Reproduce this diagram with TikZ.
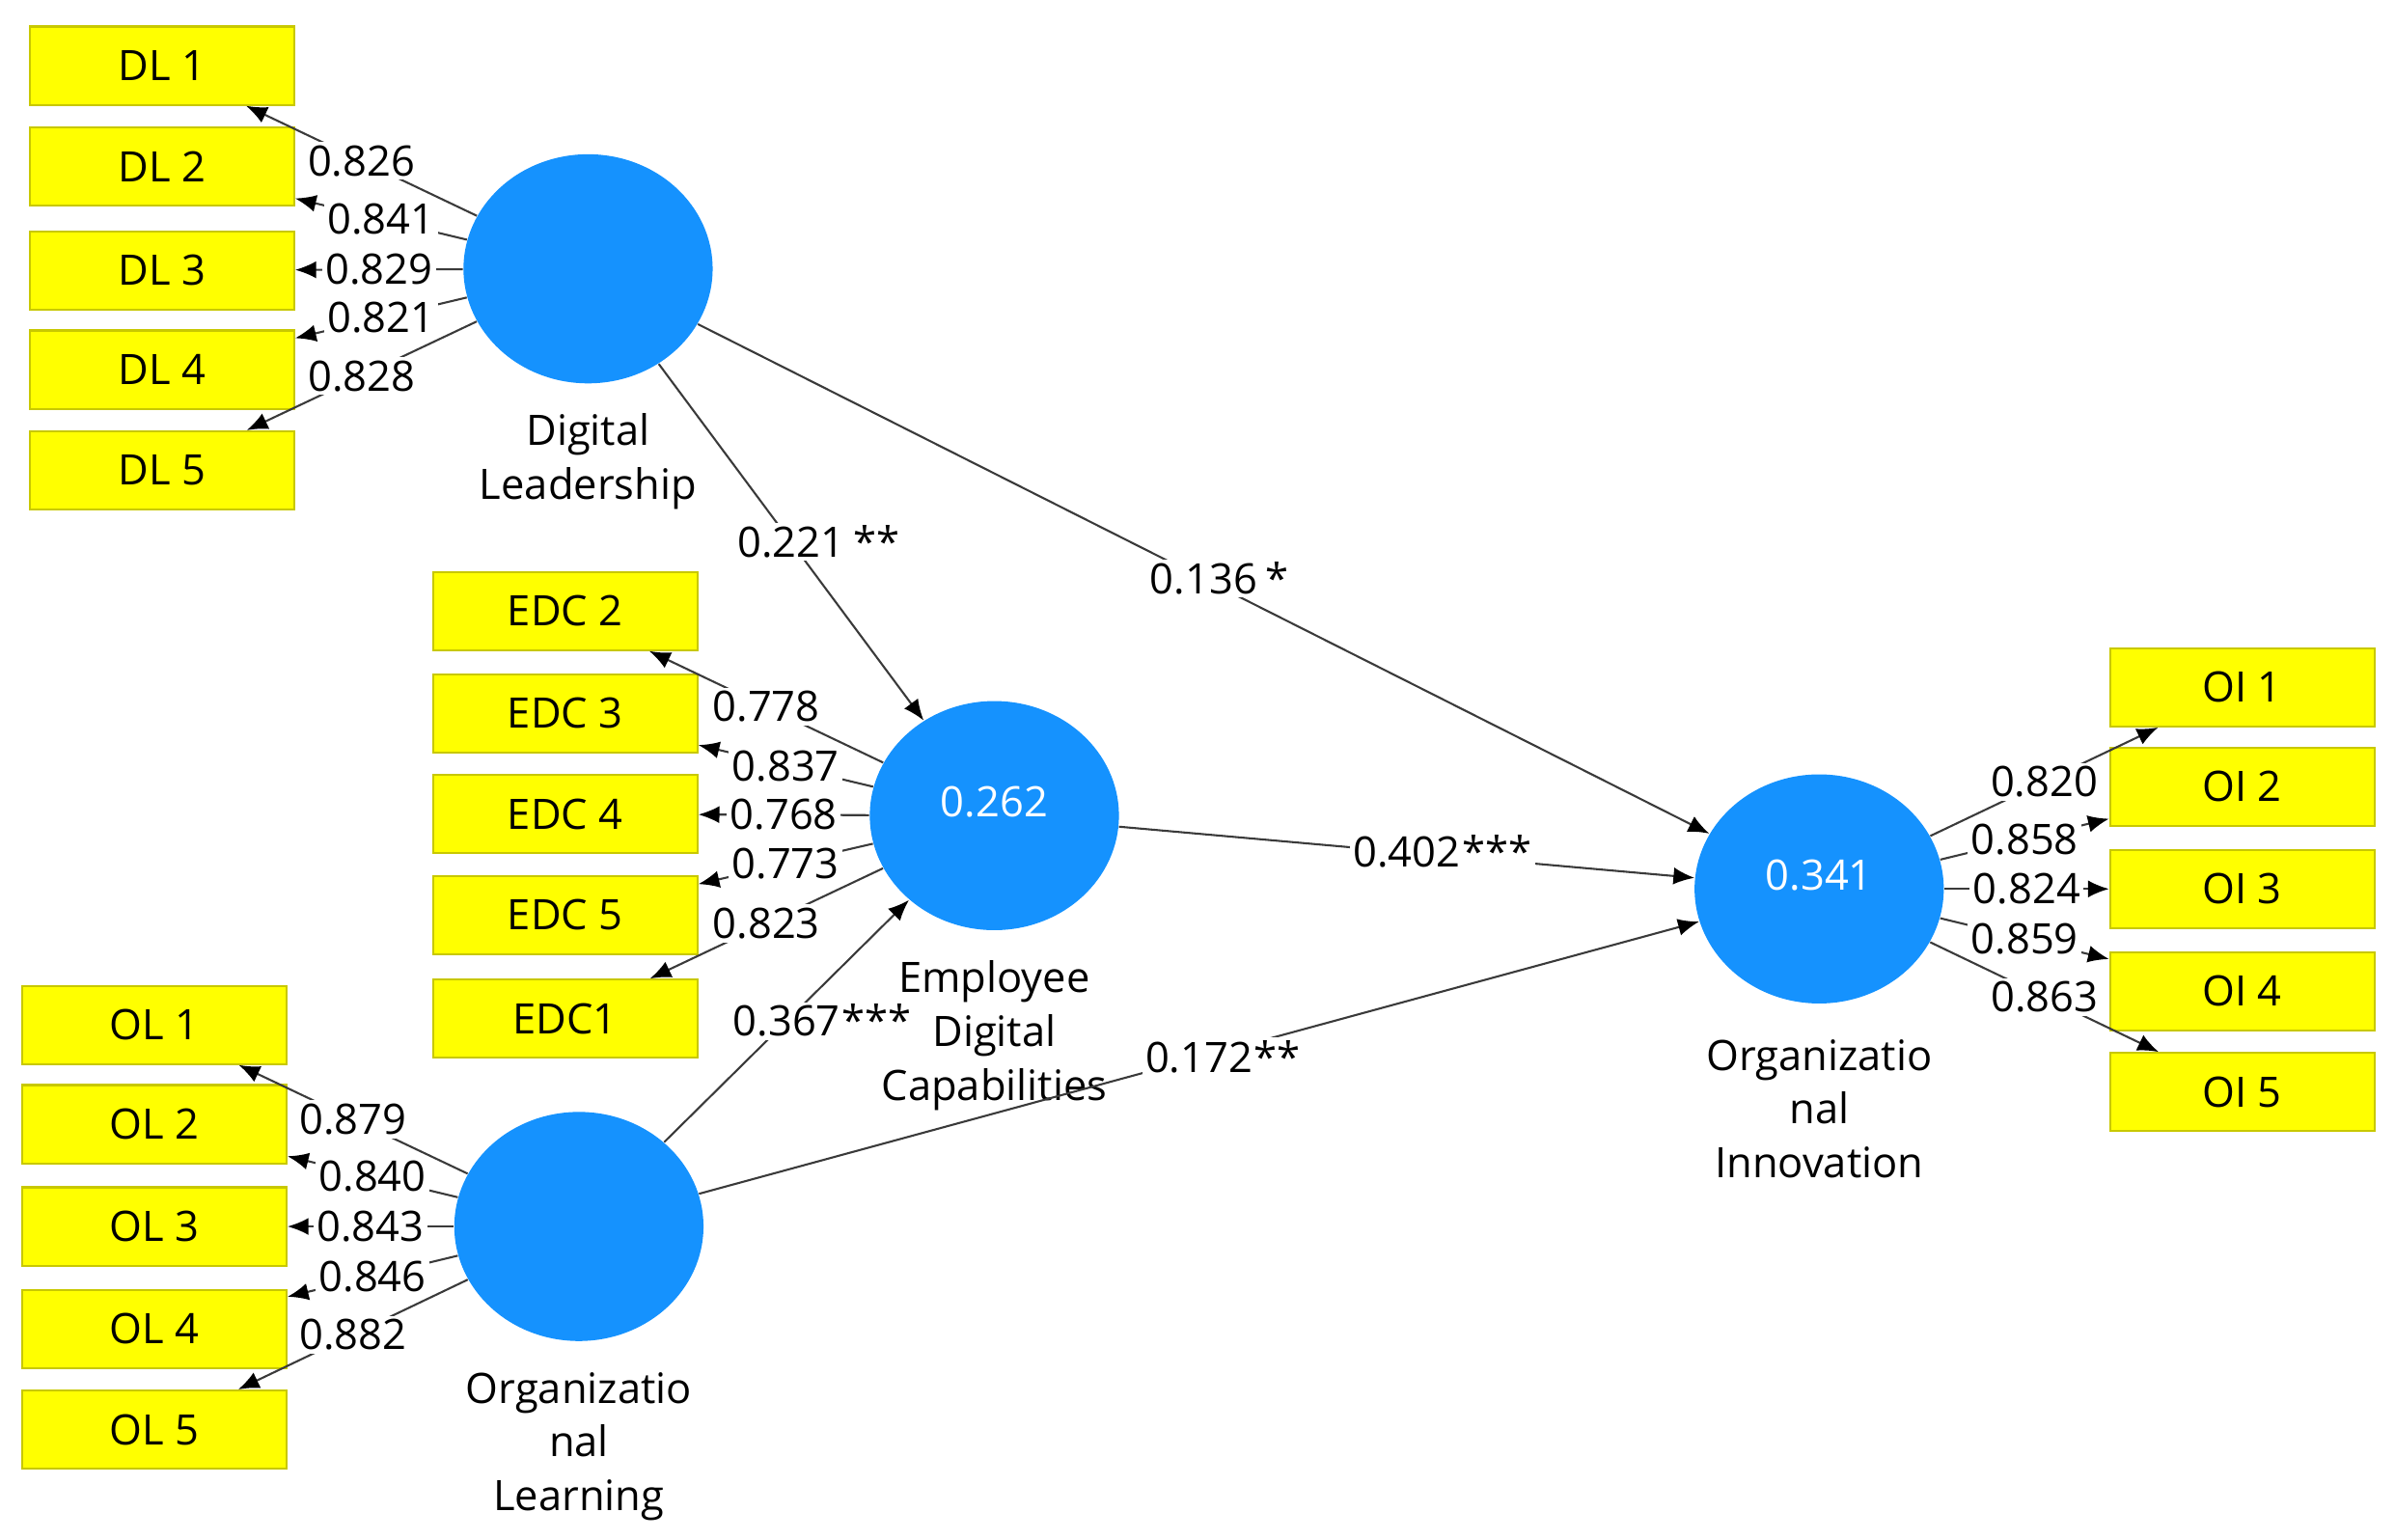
\documentclass[tikz,border=0pt]{standalone}
\usepackage{fontspec}
\setmainfont{Open Sans}
\usetikzlibrary{arrows.meta,shapes.geometric}
\definecolor{LvBlue}{HTML}{1592FE}
\definecolor{IndYellow}{HTML}{FFFF00}
\definecolor{IndEdge}{HTML}{C8C800}
\definecolor{PathGray}{HTML}{3A3A3A}

\begin{document}
\begin{tikzpicture}[x=0.16mm,y=-0.16mm,
    font=\fontsize{12.5}{16}\selectfont,
    ind/.style={rectangle,fill=IndYellow,draw=IndEdge,line width=0.6pt,
      minimum width=27.7mm,minimum height=8.2mm,inner sep=0pt},
    lv/.style={ellipse,fill=LvBlue,minimum width=26.1mm,minimum height=24mm,
      inner sep=0pt,text=white,text depth=3mm},
    lvname/.style={align=center,inner sep=0pt},
    path/.style={draw=PathGray,line width=0.6pt,
      -{Latex[length=2.2mm,width=1.8mm,color=black]}},
    load/.style={fill=white,inner sep=1pt}]
  \useasboundingbox (0,0) rectangle (1568,1008);

  % latent variables
  \node[lv] (DL) at (385,176) {};
  \node[lv] (EDC) at (651,534) {0.262};
  \node[lv] (OL) at (379,803) {};
  \node[lv] (OI) at (1191,582) {0.341};
  \node[lvname] (DLname) at (385,302) {Digital\\Leadership};
  \node[lvname] (EDCname) at (651,678) {Employee\\Digital\\Capabilities};
  \node[lvname] (OLname) at (379,947) {Organizatio\\nal\\Learning};
  \node[lvname] (OIname) at (1191,726) {Organizatio\\nal\\Innovation};

  % indicators
  \foreach \i/\y in {1/43,2/109,3/177,4/242,5/308}
    \node[ind] (DL\i) at (106,\y) {DL \i};
  \foreach \i/\t/\y in {2/EDC 2/400,3/EDC 3/467,4/EDC 4/533,5/EDC 5/599,1/EDC1/667}
    \node[ind] (EDC\i) at (370,\y) {\t};
  \foreach \i/\y in {1/671,2/736,3/803,4/870,5/936}
    \node[ind] (OL\i) at (101,\y) {OL \i};
  \foreach \i/\y in {1/450,2/515,3/582,4/649,5/715}
    \node[ind] (OI\i) at (1468,\y) {OI \i};

  % outer loadings
  \foreach \i/\v in {1/0.826,2/0.841,3/0.829,4/0.821,5/0.828}
    \draw[path] (DL) -- node[load] {\v} (DL\i);
  \foreach \i/\v in {2/0.778,3/0.837,4/0.768,5/0.773,1/0.823}
    \draw[path] (EDC) -- node[load] {\v} (EDC\i);
  \foreach \i/\v in {1/0.879,2/0.840,3/0.843,4/0.846,5/0.882}
    \draw[path] (OL) -- node[load] {\v} (OL\i);
  \foreach \i/\v in {1/0.820,2/0.858,3/0.824,4/0.859,5/0.863}
    \draw[path] (OI) -- node[load] {\v} (OI\i);

  % path coefficients
  \draw[path] (DL) -- node[load] (DLEDC) {0.221} (EDC);
  \node[load,anchor=base west] (DLEDCsig) at (DLEDC.base east) {**};
  \draw[path] (DL) -- node[load] (DLOI) {0.136} (OI);
  \node[load,anchor=base west] (DLOIsig) at (DLOI.base east) {*};
  \draw[path] (EDC) -- node[load] (EDCOI) {0.402} (OI);
  \node[load,anchor=base west,xshift=-2pt] (EDCOIsig) at (EDCOI.base east) {***};
  \draw[path] (OL) -- node[load] (OLEDC) {0.367} (EDC);
  \node[load,anchor=base west,xshift=-2pt] (OLEDCsig) at (OLEDC.base east) {***};
  \draw[path] (OL) -- node[load] (OLOI) {0.172} (OI);
  \node[load,anchor=base west,xshift=-2pt] (OLOIsig) at (OLOI.base east) {**};
\end{tikzpicture}
\end{document}
